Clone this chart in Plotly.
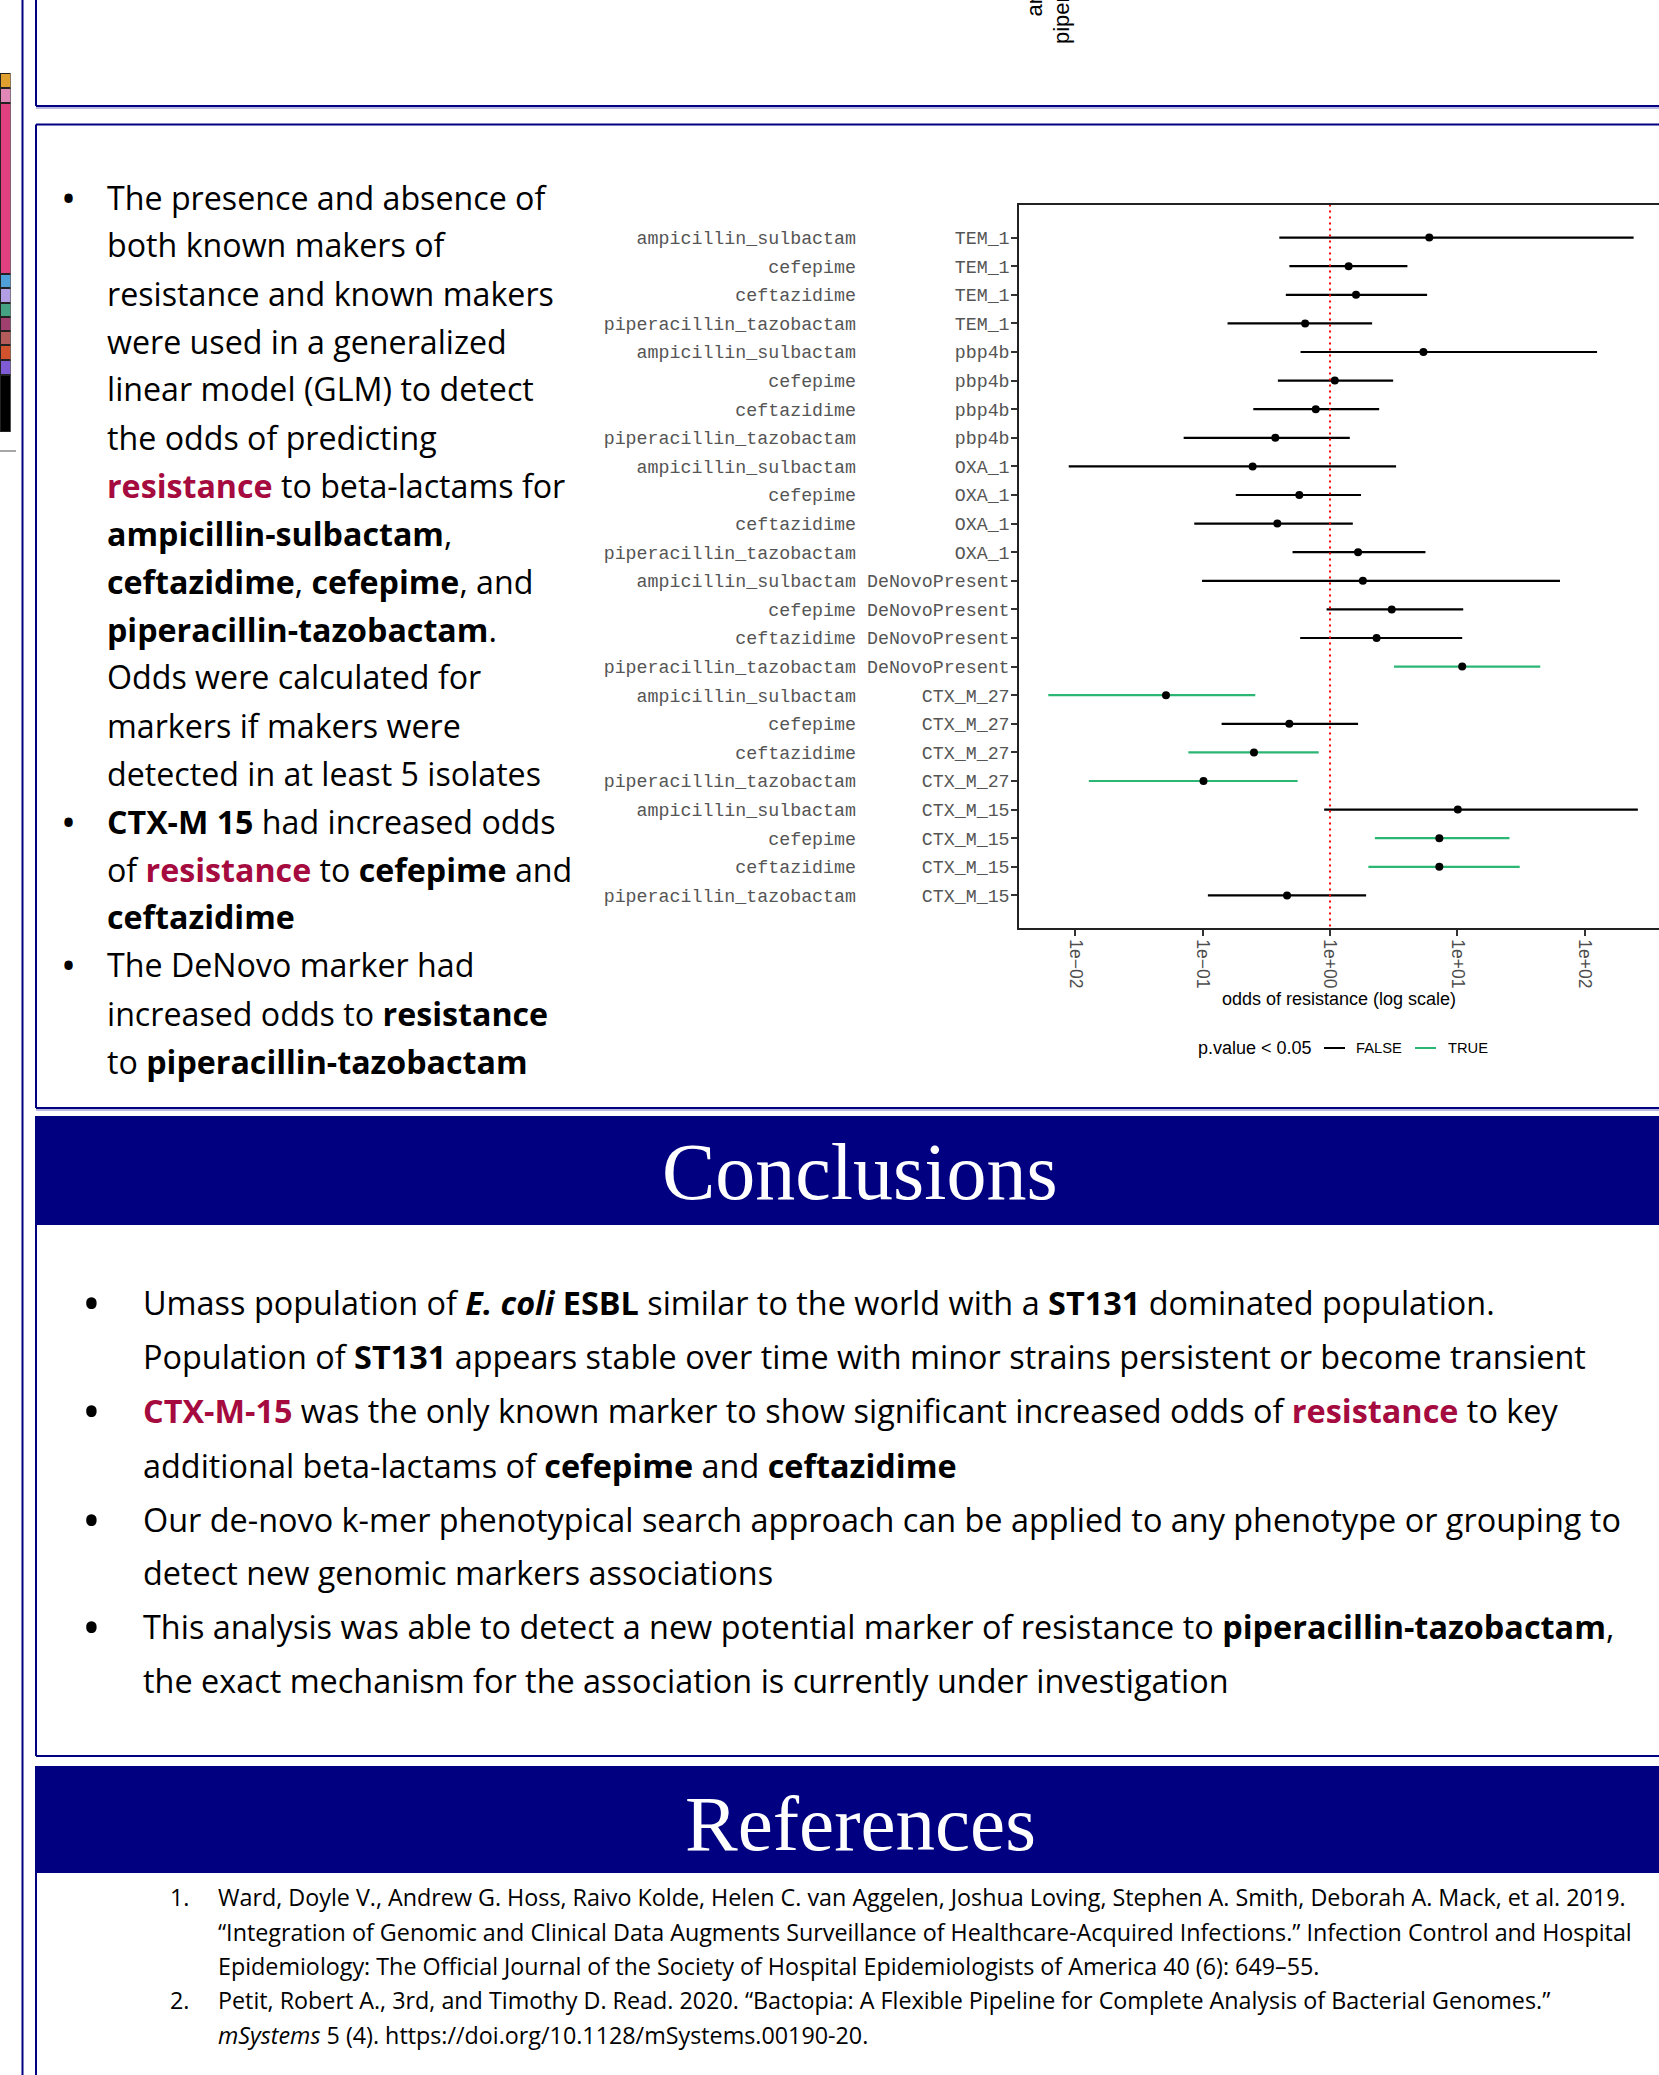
import plotly.graph_objects as go

W, H = 1659, 2075


def px(x):
    return x / W


def py(y):
    return 1 - y / H


# ---------------- forest plot data ----------------
drugs = ["ampicillin_sulbactam", "cefepime", "ceftazidime", "piperacillin_tazobactam"] * 6
markers = (["TEM_1"] * 4 + ["pbp4b"] * 4 + ["OXA_1"] * 4 + ["DeNovoPresent"] * 4
           + ["CTX_M_27"] * 4 + ["CTX_M_15"] * 4)
odds = [6.01, 1.40, 1.60, 0.638,
        5.41, 1.09, 0.773, 0.372,
        0.247, 0.574, 0.386, 1.66,
        1.81, 3.05, 2.32, 10.9,
        0.0516, 0.479, 0.253, 0.1016,
        10.07, 7.21, 7.21, 0.460]
conf_low = [0.40, 0.48, 0.45, 0.157,
            0.587, 0.39, 0.25, 0.071,
            0.0089, 0.182, 0.086, 0.508,
            0.099, 0.94, 0.583, 3.18,
            0.00615, 0.141, 0.0773, 0.0128,
            0.90, 2.25, 2.0, 0.110]
conf_high = [241.5, 4.05, 5.78, 2.14,
             124.7, 3.13, 2.43, 1.43,
             3.30, 1.75, 1.51, 5.61,
             63.8, 11.1, 10.9, 44.7,
             0.259, 1.66, 0.815, 0.557,
             260.6, 25.6, 30.8, 1.92]
significant = [False, False, False, False,
               False, False, False, False,
               False, False, False, False,
               False, False, False, True,
               True, False, True, True,
               False, True, True, False]
x_tickvals = [0.01, 0.1, 1, 10, 100]
x_ticktext = ["1e\u221202", "1e\u221201", "1e+00", "1e+01", "1e+02"]

# stacked strain bar partly visible at the left page edge (bottom to top)
strain_counts = [57, 15, 15, 14, 14, 14, 15, 14, 171, 15, 15]
strain_colors = ["#000000", "#7F5CD6", "#D2522D", "#B35A5A", "#A0406F", "#45A283",
                 "#B39DE3", "#4FA0D8", "#E0407F", "#E088B8", "#E0A030"]

NAVY = "#000080"
RED_TXT = "#A50B3E"
GREEN = "#2BB673"
SANS = "Open Sans"

fig = go.Figure()

rows = list(range(len(drugs)))
nbsp = "\u00a0"
y_ticktext = [d.rjust(23, nbsp) + nbsp + m.rjust(13, nbsp) for d, m in zip(drugs, markers)]

# confidence intervals, coloured by p.value < 0.05
for flag, col in [(False, "black"), (True, GREEN)]:
    xs, ys = [], []
    for i in rows:
        if significant[i] == flag:
            xs += [conf_low[i], conf_high[i], None]
            ys += [i, i, None]
    fig.add_trace(go.Scatter(x=xs, y=ys, mode="lines", line=dict(color=col, width=2.2),
                             showlegend=False, hoverinfo="skip", xaxis="x", yaxis="y"))

# reference line at odds = 1
fig.add_trace(go.Scatter(x=[1, 1], y=[-2, 26], mode="lines",
                         line=dict(color="red", width=2, dash="2px,4px"),
                         showlegend=False, hoverinfo="skip", xaxis="x", yaxis="y"))

# point estimates
fig.add_trace(go.Scatter(x=odds, y=rows, mode="markers",
                         marker=dict(color="black", size=8),
                         showlegend=False, xaxis="x", yaxis="y"))

# strain composition bar
for cnt, col in zip(strain_counts, strain_colors):
    fig.add_trace(go.Bar(x=[0], y=[cnt], width=1, marker=dict(color=col, line=dict(color="#222", width=1.2)),
                         showlegend=False, hoverinfo="skip", xaxis="x3", yaxis="y3"))

fig.update_layout(
    width=W, height=H, margin=dict(l=0, r=0, t=0, b=0, pad=0),
    paper_bgcolor="white", plot_bgcolor="white", barmode="stack",
    xaxis=dict(type="log", domain=[px(1019), 1.0], range=[-2.441, 2.582],
               showline=True, mirror=True, linecolor="#222", linewidth=1.5,
               ticks="outside", ticklen=6, tickwidth=1.5, tickcolor="#333",
               tickvals=x_tickvals, ticktext=x_ticktext, tickangle=90,
               tickfont=dict(family="Liberation Sans", size=17.5, color="#4D4D4D"),
               showgrid=False, zeroline=False, anchor="y"),
    yaxis=dict(domain=[py(928), py(205)], range=[24.14, -1.14],
               showline=True, mirror=False, linecolor="#222", linewidth=1.5,
               ticks="outside", ticklen=6, tickwidth=1.5, tickcolor="#333",
               tickvals=rows, ticktext=y_ticktext, ticklabelstandoff=-2,
               tickfont=dict(family="Liberation Mono", size=18.3, color="#555555"),
               showgrid=False, zeroline=False, anchor="x"),
    xaxis3=dict(domain=[0, px(10.5)], range=[-0.5, 0.5], visible=False, anchor="y3"),
    yaxis3=dict(domain=[py(432), py(73)], range=[0, sum(strain_counts)], visible=False, anchor="x3"),
)

shapes = []


def hline(y, x0, x1, color=NAVY, width=2):
    shapes.append(dict(type="line", xref="paper", yref="paper", x0=px(x0), x1=px(x1),
                       y0=py(y), y1=py(y), line=dict(color=color, width=width)))


def vline(x, y0, y1, color=NAVY, width=2):
    shapes.append(dict(type="line", xref="paper", yref="paper", x0=px(x), x1=px(x),
                       y0=py(y0), y1=py(y1), line=dict(color=color, width=width)))


def band(y0, y1):
    shapes.append(dict(type="rect", xref="paper", yref="paper", x0=px(37), x1=px(W + 5),
                       y0=py(y1), y1=py(y0), fillcolor=NAVY, line=dict(width=0), layer="below"))


# poster column frame and panel borders
vline(22.5, 0, H)
vline(36, 0, 106)
hline(108, 36, W + 5, color="#B8B8E0", width=2)
hline(106, 36, W + 5)
hline(124.5, 36, W + 5)
vline(36, 124.5, 1108)
hline(1110, 36, W + 5, color="#B8B8E0", width=2)
hline(1108, 36, W + 5)
band(1116, 1225)
vline(36, 1116, 1756)
hline(1756, 36, W + 5)
band(1766, 1873)
vline(36, 1766, H + 5)
hline(451, 0, 16, color="#888888", width=1.5)

# legend of the forest plot
hline(1048, 1324, 1345, color="black", width=2)
hline(1048, 1415, 1436, color=GREEN, width=2)

fig.update_layout(shapes=shapes)

ann = []


def text(x, y, s, size, family=SANS, color="black", xanchor="left", yanchor="middle", **kw):
    ann.append(dict(xref="paper", yref="paper", x=px(x), y=py(y), text=s, showarrow=False,
                    xanchor=xanchor, yanchor=yanchor,
                    font=dict(family=family, size=size, color=color), **kw))


def red(s):
    return f'<span style="color:{RED_TXT}"><b>{s}</b></span>'


# forest plot axis title and legend text
text(1339, 999, "odds of resistance (log scale)", 18, family="Liberation Sans", xanchor="center")
text(1196, 1048, "p.value &lt; 0.05", 18, family="Liberation Sans")
text(1354, 1048, "FALSE", 14.7, family="Liberation Sans")
text(1446, 1048, "TRUE", 14.7, family="Liberation Sans")

# cut-off tick labels of the chart above
text(1034, 19, "ampicillin_sulbactam", 22, family="Liberation Sans", xanchor="center",
     yanchor="bottom", textangle=-90)
text(1062, 46, "piperacillin_tazobactam", 22, family="Liberation Sans", xanchor="center",
     yanchor="bottom", textangle=-90)

# results bullets
left_lines = [
    "The presence and absence of",
    "both known makers of",
    "resistance and known makers",
    "were used in a generalized",
    "linear model (GLM) to detect",
    "the odds of predicting",
    red("resistance") + " to beta-lactams for",
    "<b>ampicillin-sulbactam</b>,",
    "<b>ceftazidime</b>, <b>cefepime</b>, and",
    "<b>piperacillin-tazobactam</b>.",
    "Odds were calculated for",
    "markers if makers were",
    "detected in at least 5 isolates",
    "<b>CTX-M 15</b> had increased odds",
    "of " + red("resistance") + " to <b>cefepime</b> and",
    "<b>ceftazidime</b>",
    "The DeNovo marker had",
    "increased odds to <b>resistance</b>",
    "to <b>piperacillin-tazobactam</b>",
]
left_bullets = {0, 13, 16}
for i, s in enumerate(left_lines):
    y = 197 + 48.0 * i
    text(105, y, s, 32.2)
    if i in left_bullets:
        text(68, y, "•", 40, xanchor="center")

# conclusions
text(860, 1172, "Conclusions", 80, family="Liberation Serif", color="white", xanchor="center")
concl_lines = [
    "Umass population of <b><i>E. coli</i></b> <b>ESBL</b> similar to the world with a <b>ST131</b> dominated population.",
    "Population of <b>ST131</b> appears stable over time with minor strains persistent or become transient",
    red("CTX-M-15") + " was the only known marker to show significant increased odds of " + red("resistance") + " to key",
    "additional beta-lactams of <b>cefepime</b> and <b>ceftazidime</b>",
    "Our de-novo k-mer phenotypical search approach can be applied to any phenotype or grouping to",
    "detect new genomic markers associations",
    "This analysis was able to detect a new potential marker of resistance to <b>piperacillin-tazobactam</b>,",
    "the exact mechanism for the association is currently under investigation",
]
concl_y = [1302, 1356, 1410, 1465, 1519, 1572, 1626, 1680]
for i, (s, y) in enumerate(zip(concl_lines, concl_y)):
    text(141, y, s, 32.4)
    if i % 2 == 0:
        text(91, y, "•", 50, xanchor="center")

# references
text(860, 1823, "References", 79, family="Liberation Serif", color="white", xanchor="center")
ref_lines = [
    "Ward, Doyle V., Andrew G. Hoss, Raivo Kolde, Helen C. van Aggelen, Joshua Loving, Stephen A. Smith, Deborah A. Mack, et al. 2019.",
    "\u201cIntegration of Genomic and Clinical Data Augments Surveillance of Healthcare-Acquired Infections.\u201d Infection Control and Hospital",
    "Epidemiology: The Official Journal of the Society of Hospital Epidemiologists of America 40 (6): 649\u201355.",
    "Petit, Robert A., 3rd, and Timothy D. Read. 2020. \u201cBactopia: A Flexible Pipeline for Complete Analysis of Bacterial Genomes.\u201d",
    "<i>mSystems</i> 5 (4). https://doi.org/10.1128/mSystems.00190-20.",
]
ref_y = [1897, 1932, 1966, 2000, 2035]
for s, y in zip(ref_lines, ref_y):
    text(216, y, s, 23.3)
text(168, 1897, "1.", 23.3)
text(168, 2000, "2.", 23.3)

fig.update_layout(annotations=ann)

fig.write_html("out.html", config={"displayModeBar": False})
